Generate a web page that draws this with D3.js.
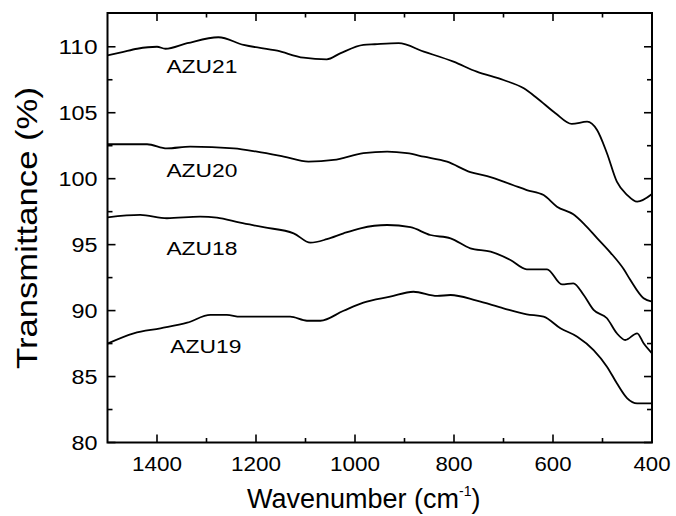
<!DOCTYPE html>
<html><head><meta charset="utf-8">
<script src="https://cdn.jsdelivr.net/npm/d3@7"></script>
<style>body{margin:0;background:#fff}svg{display:block}</style>
</head><body>
<svg id="c" width="676" height="516"></svg>
<script>
// Data (wavenumber cm^-1, transmittance %)
const azu21X = [1500,1470,1440,1400,1383,1339,1276,1225,1157,1104,1057,1030,983,960,912,861,801,754,700,659,632,595,562,531,511,491,471,450,430,400];
const azu21Y = [109.35,109.6,109.85,110.0,109.85,110.27,110.72,110.14,109.7,109.17,109.05,109.5,110.14,110.19,110.27,109.63,108.87,108.11,107.48,106.85,106.1,104.96,104.15,104.32,103.69,101.93,99.77,98.76,98.26,98.84];
const azu20X = [1500,1420,1380,1333,1245,1198,1144,1094,1043,983,935,895,861,814,767,733,680,653,619,592,559,538,511,484,457,444,417,400];
const azu20Y = [102.61,102.61,102.3,102.43,102.3,102.05,101.67,101.29,101.42,101.93,102.05,101.93,101.67,101.29,100.5,100.2,99.5,99.14,98.76,97.88,97.3,96.6,95.5,94.4,93.13,92.33,90.93,90.68];
const azu18X = [1500,1434,1380,1313,1279,1232,1185,1124,1090,1057,1023,989,935,888,848,807,767,726,686,653,612,582,559,538,518,491,471,454,430,417,400];
const azu18Y = [97.07,97.25,97.0,97.12,97.04,96.66,96.32,95.86,95.15,95.41,95.86,96.24,96.49,96.32,95.73,95.48,94.72,94.47,93.84,93.13,93.13,91.99,92.07,91.18,90.05,89.42,88.28,87.77,88.28,87.52,86.76];
const azu19X = [1500,1447,1393,1339,1292,1259,1232,1131,1097,1070,1023,983,929,882,834,807,754,700,653,619,585,551,518,491,471,450,430,400];
const azu19Y = [87.5,88.28,88.66,89.08,89.67,89.67,89.54,89.54,89.23,89.23,89.99,90.6,91.05,91.43,91.11,91.18,90.75,90.17,89.72,89.54,88.66,88.02,87.01,85.75,84.49,83.35,82.97,82.97];
const seriesNames = ["AZU21","AZU20","AZU18","AZU19"];
const labelPos = [[1381,108.0],[1381,100.1],[1381,94.25],[1373,86.8]];
const xTicks = [1400,1200,1000,800,600,400];
const xMinor = [1300,1100,900,700,500];
const yTicks = [80,85,90,95,100,105,110];
const yMinor = [82.5,87.5,92.5,97.5,102.5,107.5];

const svg = d3.select("#c");
const L=107.5,R=652,T=13,B=442.5;
const x = d3.scaleLinear().domain([1500,400]).range([L,R]);
const y = d3.scaleLinear().domain([80,112.56]).range([B,T]);
const font = "Arial, 'Liberation Sans', Helvetica, sans-serif";

const series = [[azu21X,azu21Y],[azu20X,azu20Y],[azu18X,azu18Y],[azu19X,azu19Y]];
const line = d3.line().x(d=>x(d[0])).y(d=>y(d[1])).curve(d3.curveMonotoneX);
series.forEach(([xs,ys])=>{
  const pts = xs.map((v,i)=>[v,ys[i]]);
  svg.append("path").attr("d",line(pts)).attr("fill","none").attr("stroke","#000").attr("stroke-width",1.8);
});

// ticks (inward on all sides)
const g = svg.append("g").attr("stroke","#000").attr("stroke-width",1.6);
xTicks.forEach(v=>{
  g.append("line").attr("x1",x(v)).attr("x2",x(v)).attr("y1",B).attr("y2",B-8);
  g.append("line").attr("x1",x(v)).attr("x2",x(v)).attr("y1",T).attr("y2",T+8);
});
xMinor.forEach(v=>{
  g.append("line").attr("x1",x(v)).attr("x2",x(v)).attr("y1",B).attr("y2",B-4.5);
  g.append("line").attr("x1",x(v)).attr("x2",x(v)).attr("y1",T).attr("y2",T+4.5);
});
yTicks.forEach(v=>{
  g.append("line").attr("y1",y(v)).attr("y2",y(v)).attr("x1",L).attr("x2",L+8);
  g.append("line").attr("y1",y(v)).attr("y2",y(v)).attr("x1",R).attr("x2",R-8);
});
yMinor.forEach(v=>{
  g.append("line").attr("y1",y(v)).attr("y2",y(v)).attr("x1",L).attr("x2",L+5);
  g.append("line").attr("y1",y(v)).attr("y2",y(v)).attr("x1",R).attr("x2",R-5);
});
svg.append("rect").attr("x",L).attr("y",T).attr("width",R-L).attr("height",B-T)
  .attr("fill","none").attr("stroke","#000").attr("stroke-width",2);

// tick labels
yTicks.forEach(v=>{
  svg.append("text").attr("x",L-10).attr("y",y(v)+7).attr("text-anchor","end")
    .attr("font-family",font).attr("font-size",20).attr("textLength",v>=100?39:26).attr("lengthAdjust","spacingAndGlyphs").text(v);
});
xTicks.forEach(v=>{
  const w = v>=1000?50:37;
  svg.append("text").attr("x",x(v)-w/2).attr("y",B+28)
    .attr("font-family",font).attr("font-size",20).attr("textLength",w).attr("lengthAdjust","spacingAndGlyphs").text(v);
});

// series labels
seriesNames.forEach((n,i)=>{
  svg.append("text").attr("x",x(labelPos[i][0])).attr("y",y(labelPos[i][1]))
    .attr("font-family",font).attr("font-size",17.5).attr("textLength",71).attr("lengthAdjust","spacingAndGlyphs").text(n);
});

// axis titles
svg.append("text").attr("transform","translate(37,228) rotate(-90)").attr("text-anchor","middle")
  .attr("font-family",font).attr("font-size",29).attr("textLength",282).attr("lengthAdjust","spacingAndGlyphs").text("Transmittance (%)");
const xt = svg.append("text").attr("x",247).attr("y",508).attr("font-family",font).attr("font-size",27);
xt.append("tspan").text("Wavenumber (cm");
xt.append("tspan").attr("font-size",14).attr("dy",-12).text("-1");
xt.append("tspan").attr("dy",12).text(")");
</script>
</body></html>
